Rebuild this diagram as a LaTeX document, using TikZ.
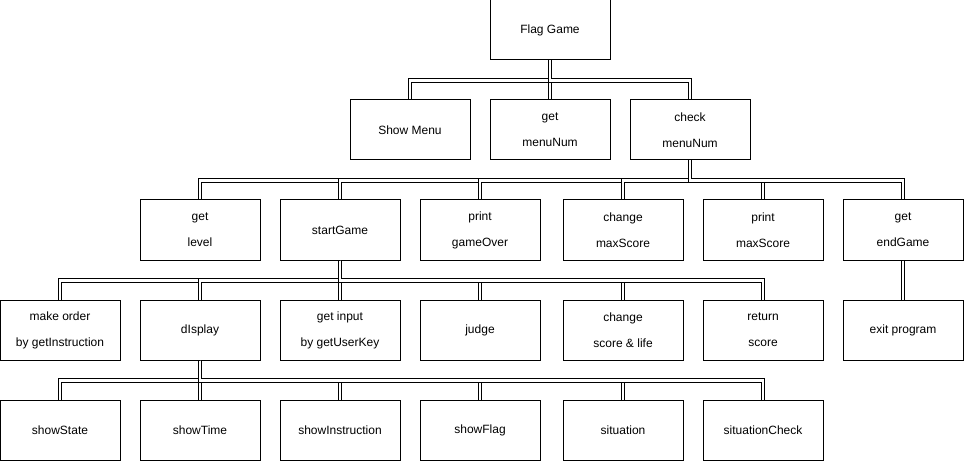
\documentclass[tikz,border=0pt]{standalone}
\usepackage{fontspec}
\setmainfont{Liberation Sans}
\begin{document}
\begin{tikzpicture}[x=1pt, y=-1pt,
    box/.style={draw, line width=1pt, minimum width=120pt, minimum height=60pt,
      inner sep=0pt, align=center, font=\fontsize{12}{26}\selectfont},
    link/.style={draw, line width=1pt, double, double distance=2.7pt}]
  \useasboundingbox (0,0) rectangle (965,462);

  \node[box] (flag) at (550,30) {Flag Game};

  \node[box] (menu) at (410,130) {Show Menu};
  \node[box] (getnum) at (550,130) {get\\menuNum};
  \node[box] (checknum) at (690,130) {check\\menuNum};

  \node[box] (level) at (200,230) {get\\level};
  \node[box] (start) at (340,230) {startGame};
  \node[box] (over) at (480,230) {print\\gameOver};
  \node[box] (changemax) at (623,230) {change\\maxScore};
  \node[box] (printmax) at (763,230) {print\\maxScore};
  \node[box] (endgame) at (903,230) {get\\endGame};

  \node[box] (order) at (60,330) {make order\\by getInstruction};
  \node[box] (display) at (200,330) {dIsplay};
  \node[box] (input) at (340,330) {get input\\by getUserKey};
  \node[box] (judge) at (480,330) {judge};
  \node[box] (life) at (623,330) {change\\score \& life};
  \node[box] (ret) at (763,330) {return\\score};
  \node[box] (exit) at (903,330) {exit program};

  \node[box] (state) at (60,430) {showState};
  \node[box] (time) at (200,430) {showTime};
  \node[box] (instr) at (340,430) {showInstruction};
  \node[box] (showflag) at (480,430) {showFlag};
  \node[box] (situ) at (623,430) {situation};
  \node[box] (situcheck) at (763,430) {situationCheck};

  \foreach \c in {menu,getnum,checknum}
    \draw[link] (flag.south) -- ++(0,20) -| (\c.north);
  \foreach \c in {level,start,over,changemax,printmax,endgame}
    \draw[link] (checknum.south) -- ++(0,20) -| (\c.north);
  \foreach \c in {order,display,input,judge,life,ret}
    \draw[link] (start.south) -- ++(0,20) -| (\c.north);
  \foreach \c in {state,time,instr,showflag,situ,situcheck}
    \draw[link] (display.south) -- ++(0,20) -| (\c.north);
  \draw[link] (endgame) -- (exit);
\end{tikzpicture}
\end{document}
